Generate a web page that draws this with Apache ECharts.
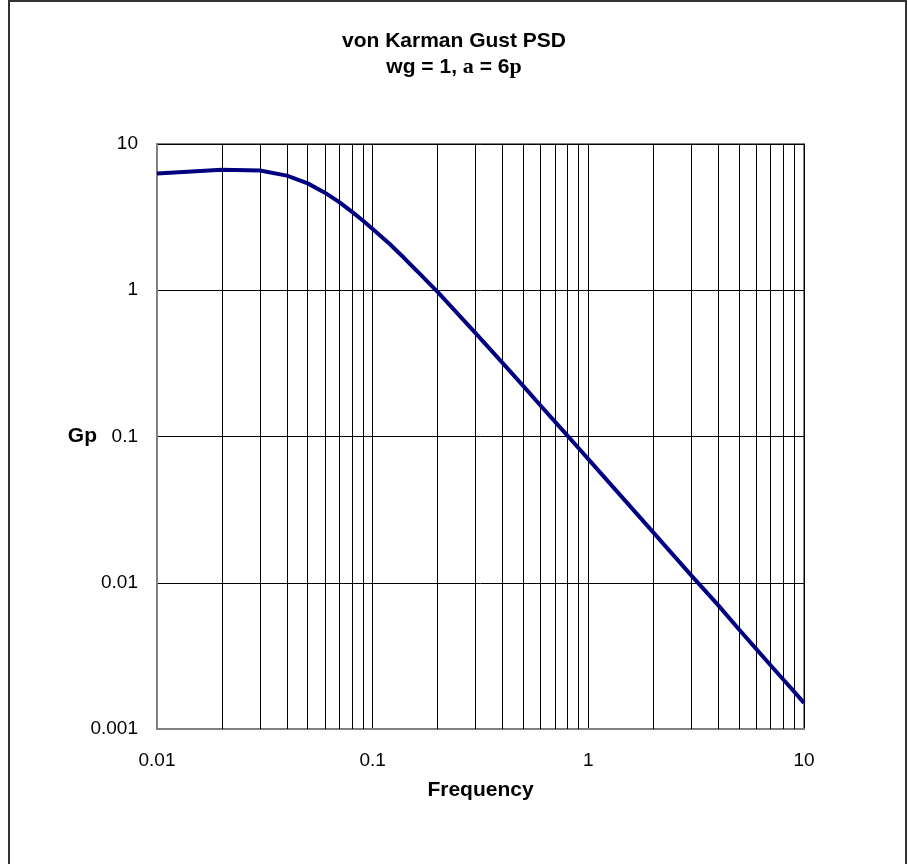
<!DOCTYPE html>
<html><head><meta charset="utf-8">
<script src="https://cdn.jsdelivr.net/npm/echarts@6/dist/echarts.min.js"></script>
<style>html,body{margin:0;padding:0;background:#fff}#c{width:908px;height:864px}</style>
</head><body><div id="c"></div>
<script>
var freq = [0.01,0.02,0.03,0.04,0.05,0.06,0.07,0.08,0.09,0.1,0.12,0.14,0.16,0.18,0.2,0.3,0.4,0.5,0.6,0.7,0.8,0.9,1,2,3,4,5,6,7,8,9,10];
var gp   = [6.28,6.66,6.58,6.08,5.38,4.65,4.0,3.45,3.0,2.62,2.07,1.66,1.36,1.14,0.975,0.509,0.319,0.221,0.163,0.1265,0.1013,0.0834,0.070,0.0221,0.01122,0.00703,0.00479,0.00353,0.00273,0.00219,0.00180,0.00151];
var minorGridX = [0.02,0.03,0.04,0.05,0.06,0.07,0.08,0.09,0.2,0.3,0.4,0.5,0.6,0.7,0.8,0.9,2,3,4,5,6,7,8,9];
var xTickLabels = ['0.01','0.1','1','10'];
var yTickLabels = ['0.001','0.01','0.1','1','10'];
var titleLine1 = 'von Karman Gust PSD';
var xName = 'Frequency';
var yName = 'Gp';

var chart = echarts.init(document.getElementById('c'), null, {renderer:'canvas'});
var font = '"Liberation Sans", Arial, sans-serif';
var serif = '"Liberation Serif", "Times New Roman", serif';
chart.setOption({
  backgroundColor: '#fff',
  animation: false,
  title: [
    {
      left: 'center', top: 26,
      text: titleLine1,
      textStyle: {fontFamily: font, fontWeight: 'bold', fontSize: 21, color: '#000'}
    },
    {
      left: 'center', top: 51,
      text: '{b|wg = 1, }{s|a}{b| = 6}{s|p}',
      textStyle: {
        rich: {
          b: {fontFamily: font, fontWeight: 'bold', fontSize: 21, color: '#000'},
          s: {fontFamily: serif, fontWeight: 'bold', fontSize: 22, color: '#000'}
        }
      }
    }
  ],
  grid: {left: 157, top: 144, width: 647, height: 585, containLabel: false, outerBoundsMode: 'none',
         show: true, borderColor: '#808080', borderWidth: 2, backgroundColor: 'transparent'},
  xAxis: {
    type: 'log', logBase: 10, min: 0.01, max: 10,
    name: xName, nameLocation: 'middle', nameGap: 51, nameMoveOverlap: false,
    nameTextStyle: {fontFamily: font, fontWeight: 'bold', fontSize: 21, color: '#000'},
    axisLine: {show: true, lineStyle: {color: '#808080', width: 2}},
    axisTick: {show: false},
    axisLabel: {fontFamily: font, fontSize: 19, color: '#000', margin: 22,
      formatter: function(v, i){ return xTickLabels[i] !== undefined ? xTickLabels[i] : v; }},
    splitLine: {show: true, lineStyle: {color: '#000', width: 1}}
  },
  yAxis: {
    type: 'log', logBase: 10, min: 0.001, max: 10,
    name: yName, nameLocation: 'middle', nameGap: 60, nameRotate: 0, nameMoveOverlap: false,
    nameTextStyle: {fontFamily: font, fontWeight: 'bold', fontSize: 21, color: '#000', align: 'right'},
    axisLine: {show: true, lineStyle: {color: '#808080', width: 2}},
    axisTick: {show: false},
    axisLabel: {fontFamily: font, fontSize: 19, color: '#000', margin: 19,
      formatter: function(v, i){ return yTickLabels[i] !== undefined ? yTickLabels[i] : v; }},
    splitLine: {show: true, lineStyle: {color: '#000', width: 1}}
  },
  series: [
    {
      type: 'line', z: 1, data: [], silent: true,
      markLine: {
        silent: true, symbol: 'none', animation: false,
        label: {show: false},
        lineStyle: {color: '#000', width: 1, type: 'solid'},
        data: minorGridX.map(function(v){ return {xAxis: v}; })
      }
    },
    {
      type: 'line', z: 5, showSymbol: false, symbol: 'none', smooth: false,
      lineStyle: {color: '#000080', width: 4},
      data: freq.map(function(f, i){ return [f, gp[i]]; })
    }
  ],
  graphic: [
    {type: 'polyline', silent: true, z: 100,
     shape: {points: [[9, 864], [9, 1], [906, 1], [906, 864]]},
     style: {fill: null, stroke: '#333', lineWidth: 2}}
  ]
});
</script></body></html>
